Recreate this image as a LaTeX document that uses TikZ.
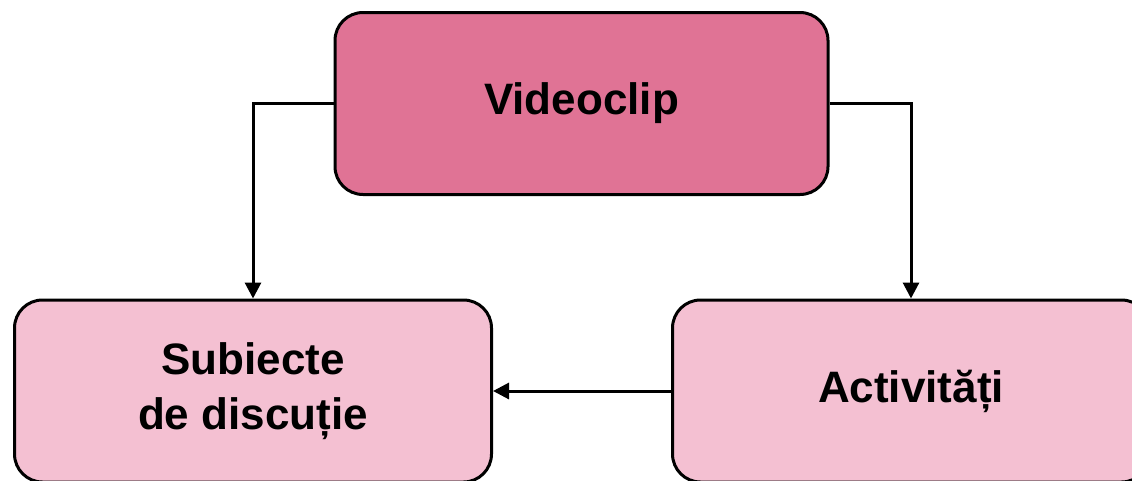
\documentclass[tikz,border=0pt]{standalone}
\usepackage{fontspec}
\setmainfont{Liberation Sans}
\usetikzlibrary{arrows.meta}
\definecolor{rosedark}{RGB}{224,115,149}
\definecolor{roselight}{RGB}{244,192,210}
\tikzset{
  card/.style={draw=black, line width=3pt, rounded corners=28pt,
    minimum width=477pt, minimum height=182pt, align=center,
    font=\fontsize{44}{55}\selectfont\bfseries, inner sep=0pt},
  link/.style={draw=black, line width=3pt,
    -{Triangle[length=16pt,width=16pt]}}
}
\begin{document}
\begin{tikzpicture}[x=1pt,y=-1pt]
  \useasboundingbox (0,0) rectangle (1132,480);
  \clip (0,0) rectangle (1132,480);
  \node[card, fill=rosedark, minimum width=493pt] (video) at (581.5,103.5) {Videoclip};
  \node[card, fill=roselight] (subj) at (253,391) {Subiecte\\de discuție};
  \node[card, fill=roselight] (act) at (911,391) {Activități};
  \draw[link] (video.west) -| (subj.north);
  \draw[link] (video.east) -| (act.north);
  \draw[link] (act.west) -- (subj.east);
\end{tikzpicture}
\end{document}
